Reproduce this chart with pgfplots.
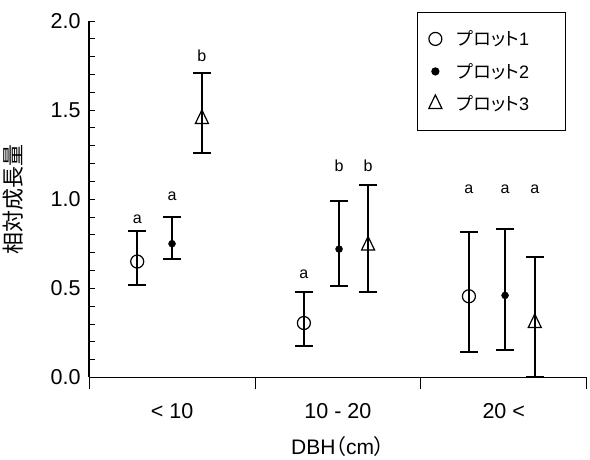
\documentclass[border=0pt]{standalone}
\usepackage{fontspec}
\setmainfont{Liberation Sans}
\newfontfamily\jp[RawFeature=+palt]{Noto Sans CJK JP}
\usepackage{pgfplots}
\usepackage{pgfplotstable}
\pgfplotsset{compat=1.18}

% x y error+ error-
\pgfplotstableread{
x     y     ep    em
0.29  0.650 0.170 0.130
1.295 0.305 0.175 0.131
2.29  0.455 0.361 0.313
}\plotA
\pgfplotstableread{
x     y     ep    em
0.50  0.750 0.150 0.083
1.507 0.720 0.270 0.205
2.508 0.460 0.370 0.305
}\plotB
\pgfplotstableread{
x     y     ep    em
0.68  1.450 0.260 0.190
1.682 0.740 0.340 0.262
2.687 0.305 0.369 0.305
}\plotC
% significance letters
\pgfplotstableread{
x     y     l
0.29  0.865 a
0.50  0.994 a
0.68  1.775 b
1.295 0.556 a
1.507 1.157 b
1.682 1.157 b
2.29  1.034 a
2.508 1.034 a
2.687 1.034 a
}\letters

\begin{document}
\begin{tikzpicture}
\begin{axis}[
  scale only axis, width=497pt, height=356pt,
  xmin=0, xmax=3, ymin=0, ymax=2,
  axis x line*=bottom, axis y line*=left,
  axis line style={line width=1.6pt, black},
  tick style={line width=0.8pt, black},
  tick align=inside,
  ytick={0,0.5,1,1.5,2},
  minor y tick num=4,
  major tick length=6pt, minor tick length=6pt,
  yticklabel style={/pgf/number format/fixed, /pgf/number format/fixed zerofill,
    /pgf/number format/precision=1, xshift=-5pt},
  /pgf/number format/assume math mode=true,
  tick label style={font=\fontsize{21.5}{25}\selectfont},
  xtick={0.5,1.5,2.5},
  xticklabels={{< 10},{10 - 20},{20 <}},
  xticklabel style={yshift=-23pt},
  major x tick style={draw=none},
  extra x ticks={0,1,2,3},
  extra x tick labels={},
  extra x tick style={tick align=outside, major tick length=12pt,
    major x tick style={draw=black, line width=0.8pt}},
  xlabel={DBH{\jp（}cm{\jp）}},
  ylabel={\jp 相対成長量},
  xlabel style={font=\fontsize{21}{25}\selectfont, yshift=2pt},
  ylabel style={font=\fontsize{22}{26}\selectfont},
  ylabel shift=20pt,
  error bars/y dir=both, error bars/y explicit,
  error bars/error bar style={line width=2pt, black},
  error bars/error mark options={rotate=90, line width=2pt, mark size=9pt, black},
  legend style={at={(0.958,1.025)}, anchor=north east, draw=black, line width=1.2pt,
    font=\fontsize{18}{21}\selectfont, row sep=12pt, inner xsep=11pt, inner ysep=16pt},
  legend cell align=left,
]
\addplot[only marks, mark=o, mark size=6.5pt, mark options={line width=1.2pt, black}]
  table[x=x, y=y, y error plus=ep, y error minus=em] {\plotA};
\addlegendentry{\hspace*{13pt}{\jp プロット}1\hspace*{23pt}}
\addplot[only marks, mark=*, mark size=3.5pt, mark options={black, fill=black}]
  table[x=x, y=y, y error plus=ep, y error minus=em] {\plotB};
\addlegendentry{\hspace*{13pt}{\jp プロット}2}
\addplot[only marks, mark=triangle, mark size=7.5pt, mark options={line width=1.2pt, black, yscale=1.2}]
  table[x=x, y=y, y error plus=ep, y error minus=em] {\plotC};
\addlegendentry{\hspace*{13pt}{\jp プロット}3}
\addplot[forget plot, draw=none, mark=none, nodes near coords, point meta=explicit symbolic,
  nodes near coords style={anchor=base, inner sep=0pt, font=\fontsize{16}{16}\selectfont}]
  table[x=x, y=y, meta=l] {\letters};
\end{axis}
% blank margin above the legend, as in the reference
\path ([yshift=10pt]current bounding box.north);
\end{tikzpicture}
\end{document}
